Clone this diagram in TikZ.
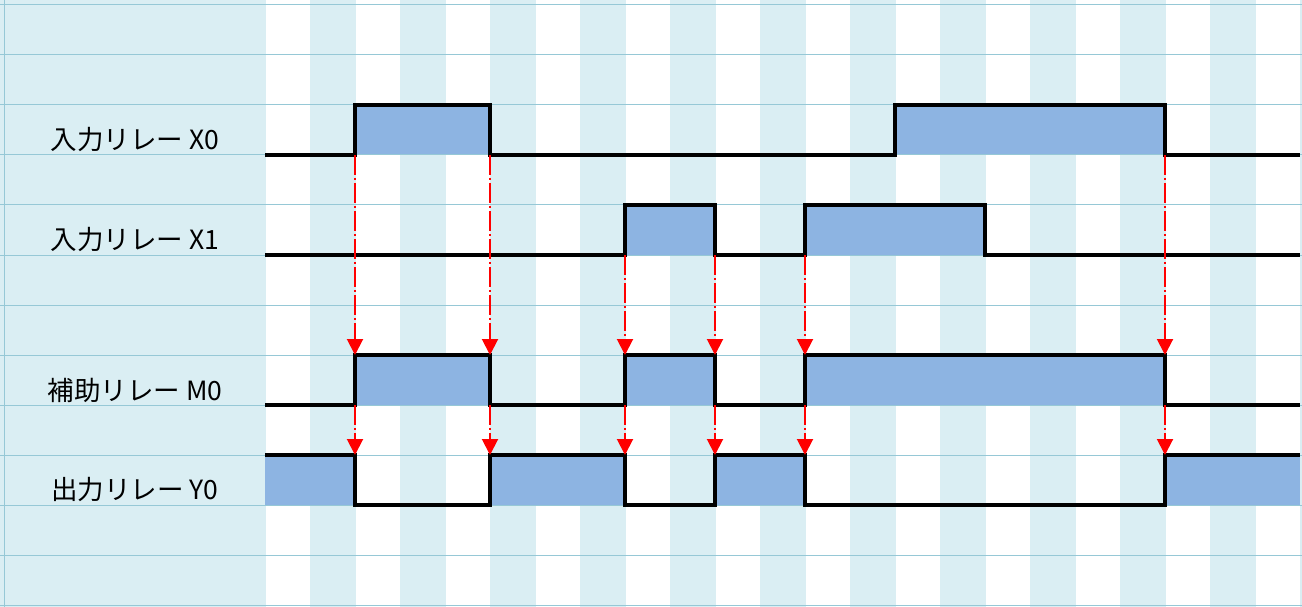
\documentclass[tikz,border=0pt]{standalone}
\usepackage{fontspec}
\setmainfont{Noto Sans CJK JP}
\usetikzlibrary{arrows.meta}

\definecolor{stripe}{RGB}{218,238,243}
\definecolor{gridc}{RGB}{150,200,214}
\definecolor{pulse}{RGB}{141,180,226}

\tikzset{
	sig/.style={line width=4pt, black, line join=miter},
	pulsebox/.style={fill=pulse},
	trig/.style={red, line width=2pt, dash pattern=on 20pt off 3pt on 2pt off 3pt,
		-{Triangle[length=16pt,width=16pt]}},
	lbl/.style={font=\fontsize{26.5}{30}\selectfont, inner sep=0pt}
}

\begin{document}
\begin{tikzpicture}[x=1pt, y=-1pt]
	\useasboundingbox (0,0) rectangle (1302,607);

	% Background: label column and stripes
	\fill[stripe] (0,0) rectangle (266,607);
	\foreach \x in {310,400,...,1300} {
		\fill[stripe] (\x,0) rectangle (\x+46,607);
	}

	% Pulse fills
	\foreach \a/\b in {355/490,895/1165} {
		\fill[pulsebox] (\a,105) rectangle (\b,155);
	}
	\foreach \a/\b in {625/715,805/985} {
		\fill[pulsebox] (\a,205) rectangle (\b,255);
	}
	\foreach \a/\b in {355/490,625/715,805/1165} {
		\fill[pulsebox] (\a,355) rectangle (\b,405);
	}
	\foreach \a/\b in {265/355,490/625,715/805,1165/1300} {
		\fill[pulsebox] (\a,455) rectangle (\b,505);
	}

	% Grid lines
	\foreach \y in {5,55,...,605} {
		\draw[gridc, line width=1pt] (0,\y) -- (1302,\y);
	}
	\draw[gridc, line width=1pt] (4.5,0) -- (4.5,607);

	% Labels
	\node[lbl] (lx0) at (135,140) {入力リレー X0};
	\node[lbl] (lx1) at (135,240) {入力リレー X1};
	\node[lbl] (lm0) at (135,390) {補助リレー M0};
	\node[lbl] (ly0) at (135,490) {出力リレー Y0};

	% Signals
	\draw[sig] (265,155) -- (355,155) -- (355,105) -- (490,105) -- (490,155)
		-- (895,155) -- (895,105) -- (1165,105) -- (1165,155) -- (1300,155);
	\draw[sig] (265,255) -- (625,255) -- (625,205) -- (715,205) -- (715,255)
		-- (805,255) -- (805,205) -- (985,205) -- (985,255) -- (1300,255);
	\draw[sig] (265,405) -- (355,405) -- (355,355) -- (490,355) -- (490,405)
		-- (625,405) -- (625,355) -- (715,355) -- (715,405) -- (805,405)
		-- (805,355) -- (1165,355) -- (1165,405) -- (1300,405);
	\draw[sig] (265,455) -- (355,455) -- (355,505) -- (490,505) -- (490,455)
		-- (625,455) -- (625,505) -- (715,505) -- (715,455) -- (805,455)
		-- (805,505) -- (1165,505) -- (1165,455) -- (1300,455);

	% Trigger arrows X0/X1 -> M0
	\foreach \x/\y in {355/155,490/155,625/255,715/255,805/255,1165/155} {
		\coordinate (src) at (\x,\y);
		\coordinate (dst) at (\x,355);
		\draw[trig] (src) -- (dst);
	}
	% Trigger arrows M0 -> Y0
	\foreach \x in {355,490,625,715,805,1165} {
		\coordinate (src) at (\x,405);
		\coordinate (dst) at (\x,455);
		\draw[trig] (src) -- (dst);
	}
\end{tikzpicture}
\end{document}
